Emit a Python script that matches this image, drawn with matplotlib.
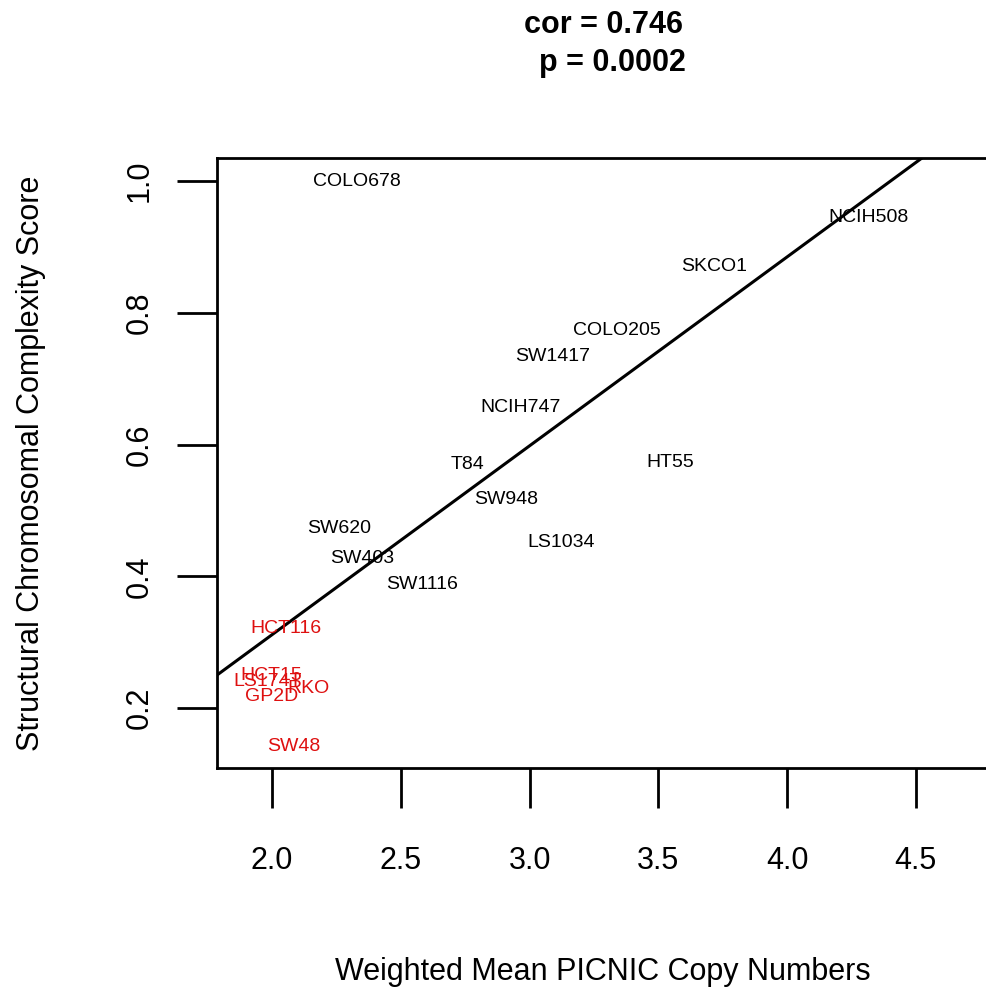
import numpy as np
import matplotlib
matplotlib.use("Agg")
import matplotlib.pyplot as plt

plt.rcParams['font.family'] = ['Liberation Sans', 'DejaVu Sans']

# cell lines, weighted mean copy number vs structural complexity score
names = ["COLO678", "NCIH508", "SKCO1", "COLO205", "SW1417", "NCIH747", "T84",
         "HT55", "SW948", "SW620", "LS1034", "SW403", "SW1116",
         "HCT116", "HCT15", "LS174T", "RKO", "GP2D", "SW48"]
copy_num = [2.330, 4.318, 3.717, 3.340, 3.091, 2.963, 2.757,
            3.545, 2.909, 2.260, 3.122, 2.350, 2.583,
            2.054, 1.996, 1.983, 2.140, 2.000, 2.085]
complexity = [1.000, 0.945, 0.871, 0.773, 0.733, 0.656, 0.570,
              0.573, 0.516, 0.473, 0.452, 0.427, 0.388,
              0.320, 0.250, 0.240, 0.229, 0.217, 0.142]
is_msi = [False] * 13 + [True] * 6

fit_slope = 0.2867
fit_intercept = -0.262

x_ticks = [2.0, 2.5, 3.0, 3.5, 4.0, 4.5]
y_ticks = [0.2, 0.4, 0.6, 0.8, 1.0]

fig = plt.figure(figsize=(9.86, 9.88), dpi=100)
ax = fig.add_axes([0.2201, 0.2227, 0.7829, 0.6174])

for name, x, y, msi in zip(names, copy_num, complexity, is_msi):
    ax.text(x, y, name, ha="center", va="center", fontsize=14,
            color="#DE1010" if msi else "black")

ax.set_xlim(1.786, 4.784)
ax.set_ylim(0.109, 1.035)
xs = np.array(ax.get_xlim())
ax.plot(xs, fit_intercept + fit_slope * xs, color="black", lw=2.2)

ax.set_xticks(x_ticks)
ax.set_xticklabels([f"{v:.1f}" for v in x_ticks])
ax.set_yticks(y_ticks)
ax.set_yticklabels([f"{v:.1f}" for v in y_ticks], rotation=90, va="center")
ax.tick_params(labelsize=22, length=29, width=2, pad=27)
ax.tick_params(axis="y", pad=16)
for s in ax.spines.values():
    s.set_linewidth(2)

fig.text(603 / 986, 1 - 25 / 988, "cor = 0.746", ha="center", va="center",
         fontsize=22, fontweight="bold")
fig.text(612 / 986, 1 - 63 / 988, "p = 0.0002", ha="center", va="center",
         fontsize=22, fontweight="bold")
fig.text(603 / 986, 1 - 972 / 988, "Weighted Mean PICNIC Copy Numbers",
         ha="center", va="center", fontsize=22)
fig.text(31 / 986, 1 - 463 / 988, "Structural Chromosomal Complexity Score",
         ha="center", va="center", fontsize=22, rotation=90)

fig.savefig("out.png", dpi=100)
